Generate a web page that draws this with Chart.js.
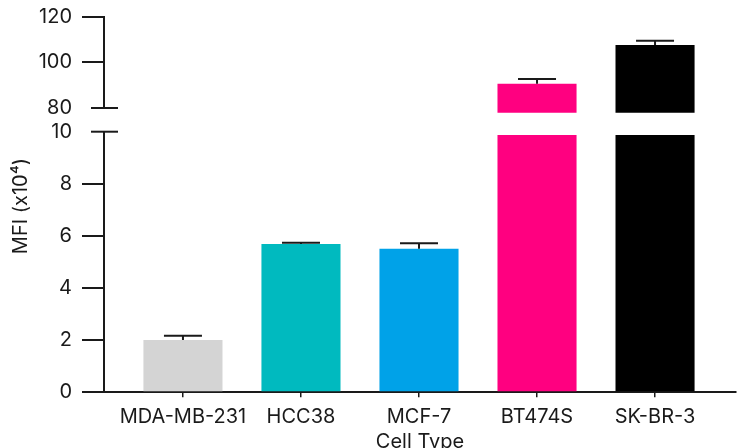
<!DOCTYPE html>
<html>
<head>
<meta charset="utf-8">
<script src="https://cdn.jsdelivr.net/npm/chart.js@4.4.1/dist/chart.umd.min.js"></script>
<style>
  html, body { margin: 0; padding: 0; background: #fff; }
  #wrap { position: relative; width: 745px; height: 448px; overflow: hidden; }
  #wrap canvas { position: absolute; left: 0; top: 0; }
</style>
</head>
<body>
<div id="wrap">
  <canvas id="lower" width="745" height="448"></canvas>
  <canvas id="upper" width="745" height="448"></canvas>
</div>
<script>
// Mean fluorescence intensity per cell line (x10^4), with SEM
const categories = ['MDA-MB-231', 'HCC38', 'MCF-7', 'BT474S', 'SK-BR-3'];
const mfi = [2.01, 5.69, 5.51, 90.65, 107.6];
const sem = [0.16, 0.05, 0.21, 2.06, 1.9];
const barColors = ['#d4d4d4', '#00babf', '#00a2e8', '#ff0080', '#000000'];

// Broken value axis: a lower segment and an upper segment
const lowerRange = { min: 0, max: 10, step: 2 };
const upperRange = { min: 80, max: 120, step: 20 };

const yTitle = 'MFI (x10\u2074)';
const xTitle = 'Cell Type';

const FONT = 'Inter, "Open Sans", sans-serif';
const INK = '#1a1a1a';

const barData = categories.map((c, i) => ({ x: i, y: mfi[i] }));

// one-sided (upward) error bars with caps
const errorBars = {
  id: 'errorBars',
  afterDatasetsDraw(chart) {
    const ctx = chart.ctx;
    const yScale = chart.scales.y;
    const meta = chart.getDatasetMeta(0);
    ctx.save();
    ctx.strokeStyle = INK;
    ctx.lineWidth = 2;
    meta.data.forEach((bar, i) => {
      const v = mfi[i], top = mfi[i] + sem[i];
      if (v < yScale.min || top > yScale.max) return;
      const y0 = yScale.getPixelForValue(v);
      const y1 = yScale.getPixelForValue(top);
      ctx.beginPath();
      ctx.moveTo(bar.x, y0);
      ctx.lineTo(bar.x, y1);
      ctx.moveTo(bar.x - 19, y1);
      ctx.lineTo(bar.x + 19, y1);
      ctx.stroke();
    });
    ctx.restore();
  }
};

// short crossing stroke marking the axis break
const axisBreak = {
  id: 'axisBreak',
  afterDraw(chart, args, opts) {
    const ctx = chart.ctx;
    const y = chart.scales.y.getPixelForValue(opts.value);
    const x = chart.chartArea.left;
    ctx.save();
    ctx.strokeStyle = INK;
    ctx.lineWidth = 2;
    ctx.beginPath();
    ctx.moveTo(x - 13, y);
    ctx.lineTo(x + 14, y);
    ctx.stroke();
    ctx.restore();
  }
};

// axis titles spanning the whole broken axis
const axisTitles = {
  id: 'axisTitles',
  afterDraw(chart) {
    const ctx = chart.ctx;
    ctx.save();
    ctx.fillStyle = INK;
    ctx.font = '20px ' + FONT;
    ctx.textAlign = 'center';
    ctx.textBaseline = 'alphabetic';
    ctx.translate(27, 206);
    ctx.rotate(-Math.PI / 2);
    ctx.fillText(yTitle, 0, 0);
    ctx.restore();

    ctx.save();
    ctx.fillStyle = INK;
    ctx.font = '20px ' + FONT;
    ctx.textAlign = 'center';
    ctx.textBaseline = 'alphabetic';
    const a = chart.chartArea;
    ctx.fillText(xTitle, (a.left + a.right) / 2, 448);
    ctx.restore();
  }
};

function xScaleOptions(show) {
  return {
    type: 'linear',
    display: show,
    offset: false,
    min: -0.669,
    max: 4.686,
    afterBuildTicks(scale) { scale.ticks = categories.map((c, i) => ({ value: i })); },
    afterFit(scale) { if (show) scale.height = 55.7; },
    grid: { offset: false, drawOnChartArea: false, tickLength: 5, color: INK, lineWidth: 1.5 },
    border: { display: show, color: INK, width: 2 },
    ticks: {
      autoSkip: false, maxRotation: 0, padding: 8, color: INK,
      font: { family: FONT, size: 20 },
      callback: (v) => categories[v]
    }
  };
}

function yScaleOptions(range, breakValue) {
  return {
    type: 'linear',
    min: range.min,
    max: range.max,
    afterFit(scale) {
      scale.width = 104;
      // plot area is set by the layout padding alone
      scale.paddingTop = 0;
      scale.paddingBottom = 0;
    },
    grid: {
      drawOnChartArea: false, tickLength: 22, lineWidth: 2,
      color: (c) => (c.tick && c.tick.value === breakValue) ? 'rgba(0,0,0,0)' : INK
    },
    border: { display: true, color: INK, width: 2 },
    ticks: {
      stepSize: range.step, padding: 10, color: INK,
      font: { family: FONT, size: 20 }
    }
  };
}

function makeChart(id, range, breakValue, padTop, padBottom, clip, showX, extraPlugins) {
  return new Chart(document.getElementById(id), {
    type: 'bar',
    data: {
      datasets: [{
        data: barData,
        backgroundColor: barColors,
        borderWidth: 0,
        barPercentage: 0.67,
        categoryPercentage: 1.0,
        clip: clip
      }]
    },
    options: {
      responsive: false,
      animation: false,
      devicePixelRatio: 1,
      layout: { padding: { left: 0, right: 9, top: padTop, bottom: padBottom } },
      plugins: {
        legend: { display: false },
        tooltip: { enabled: false },
        axisBreak: { value: breakValue }
      },
      scales: {
        x: xScaleOptions(showX),
        y: yScaleOptions(range, breakValue)
      }
    },
    plugins: [errorBars, axisBreak].concat(extraPlugins)
  });
}

// lower segment 0–10 with the category axis
makeChart('lower', lowerRange, 10, 131.7, 0,
  { left: 0, right: 0, top: -3.3, bottom: 0 }, true, [axisTitles]);

// upper segment 80–120 for the high expressers
makeChart('upper', upperRange, 80, 16.7, 340,
  { left: 0, right: 0, top: 0, bottom: 4.7 }, false, []);
</script>
</body>
</html>
